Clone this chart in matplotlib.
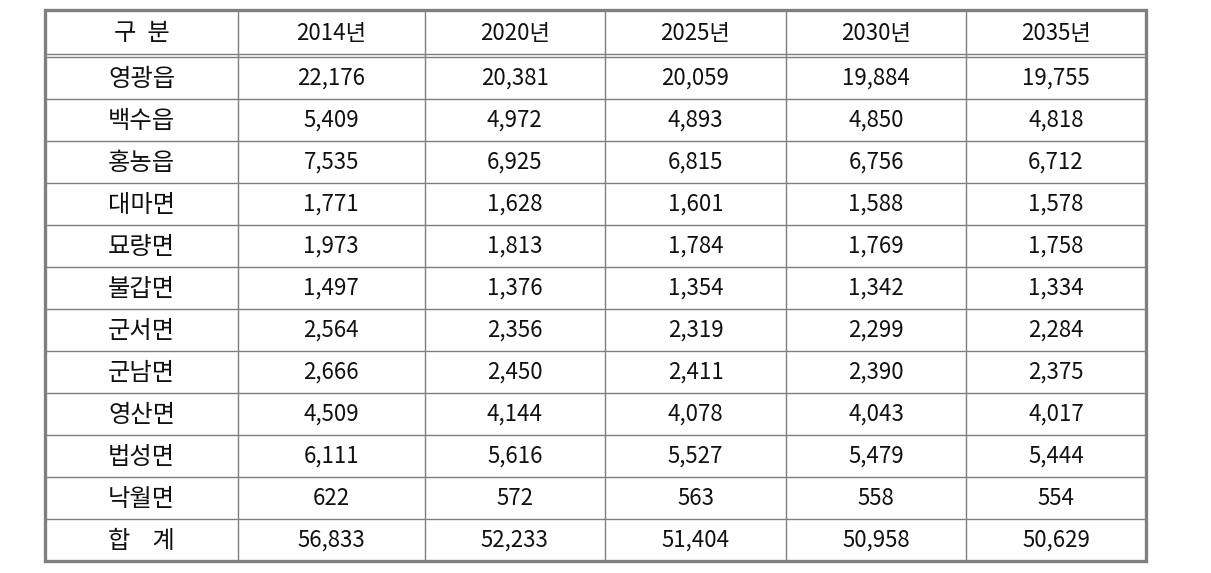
import matplotlib
matplotlib.use("Agg")
import matplotlib.pyplot as plt

plt.rcParams['font.family'] = ['Noto Sans CJK KR', 'DejaVu Sans']

header = ["구  분", "2014년", "2020년", "2025년", "2030년", "2035년"]
regions = ["영광읍", "백수읍", "홍농읍", "대마면", "묘량면", "불갑면",
           "군서면", "군남면", "영산면", "법성면", "낙월면", "합    계"]
v2014 = [22176, 5409, 7535, 1771, 1973, 1497, 2564, 2666, 4509, 6111, 622, 56833]
v2020 = [20381, 4972, 6925, 1628, 1813, 1376, 2356, 2450, 4144, 5616, 572, 52233]
v2025 = [20059, 4893, 6815, 1601, 1784, 1354, 2319, 2411, 4078, 5527, 563, 51404]
v2030 = [19884, 4850, 6756, 1588, 1769, 1342, 2299, 2390, 4043, 5479, 558, 50958]
v2035 = [19755, 4818, 6712, 1578, 1758, 1334, 2284, 2375, 4017, 5444, 554, 50629]

W, H = 1211, 573
fig = plt.figure(figsize=(W / 100, H / 100), dpi=100)
ax = fig.add_axes([0, 0, 1, 1])
ax.set_xlim(0, W)
ax.set_ylim(H, 0)
ax.axis('off')

col_x = [45, 238, 424.5, 605, 786, 966, 1146]
top, head_bot = 9.5, 54.5
row_h = 42.0
data_top = 56.5
n = len(regions)
bottom = data_top + n * row_h

line_c = '#7f7f7f'
fs_num = 16
fs_kor = 17.5
txt_c = '#111111'

# header
for j, h in enumerate(header):
    cx = (col_x[j] + col_x[j + 1]) / 2
    ax.text(cx, (top + head_bot) / 2 + 1, h, ha='center', va='center',
            fontsize=fs_kor if j == 0 else fs_num, color=txt_c)

cols = [v2014, v2020, v2025, v2030, v2035]
for i, r in enumerate(regions):
    cy = data_top + row_h * i + row_h / 2 + 1
    ax.text((col_x[0] + col_x[1]) / 2, cy, r, ha='center', va='center', fontsize=fs_kor, color=txt_c)
    for j, c in enumerate(cols):
        cx = (col_x[j + 1] + col_x[j + 2]) / 2
        ax.text(cx, cy, f"{c[i]:,}", ha='center', va='center', fontsize=fs_num, color=txt_c)

# grid lines
for x in col_x[1:-1]:
    ax.plot([x, x], [top, bottom], color=line_c, lw=1.0, solid_capstyle='butt')
ax.plot([col_x[0], col_x[-1]], [head_bot - 1, head_bot - 1], color=line_c, lw=1.0)
ax.plot([col_x[0], col_x[-1]], [data_top, data_top], color=line_c, lw=1.0)
for i in range(1, n):
    y = data_top + row_h * i
    ax.plot([col_x[0], col_x[-1]], [y, y], color=line_c, lw=1.0)

# outer border
ax.add_patch(plt.Rectangle((col_x[0], top), col_x[-1] - col_x[0], bottom - top,
                           fill=False, edgecolor=line_c, lw=2.4, joinstyle='miter'))

fig.savefig('out.png', dpi=100, facecolor='white')
